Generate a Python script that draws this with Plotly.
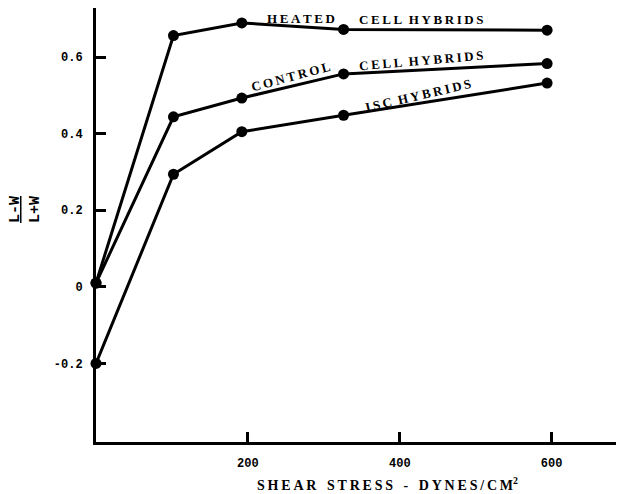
import plotly.graph_objects as go

shear_stress = [0, 102, 192, 326, 594]
heated = [0.01, 0.656, 0.689, 0.672, 0.670]
control = [0.01, 0.444, 0.493, 0.556, 0.583]
isc = [-0.2, 0.294, 0.405, 0.448, 0.532]

y_ticks = [-0.2, 0, 0.2, 0.4, 0.6]
y_tick_labels = ["-0.2", "0", "0.2", "0.4", "0.6"]
x_ticks = [200, 400, 600]
x_tick_labels = ["200", "400", "600"]

TS = "\u2009"  # thin space used as letter spacing
GAP = "\u00a0\u00a0"
GAP3 = "\u00a0\u00a0\u00a0"


def spaced(s):
    return TS.join(s)


fig = go.Figure()
for name, ys in [("HEATED CELL HYBRIDS", heated), ("CONTROL CELL HYBRIDS", control), ("ISC HYBRIDS", isc)]:
    fig.add_trace(go.Scatter(
        x=shear_stress, y=ys, mode="lines+markers", name=name,
        line=dict(color="black", width=3),
        marker=dict(color="black", size=11),
        cliponaxis=False, showlegend=False,
    ))

label_font = dict(family="Liberation Serif", size=13, color="black", weight="bold")
annotations = [
    dict(x=270, y=0.701, text=spaced("HEATED"), textangle=0),
    dict(x=429, y=0.698, text=spaced("CELL") + GAP + spaced("HYBRIDS"), textangle=0),
    dict(x=257, y=0.550, text=spaced("CONTROL"), textangle=-15),
    dict(x=428, y=0.590, text=spaced("CELL") + GAP + spaced("HYBRIDS"), textangle=-5),
    dict(x=424, y=0.500, text=spaced("ISC") + GAP + spaced("HYBRIDS"), textangle=-13),
]
for a in annotations:
    fig.add_annotation(xref="x", yref="y", showarrow=False, font=label_font,
                       xanchor="center", yanchor="middle", **a)

fig.add_annotation(xref="paper", yref="paper", x=(387 - 96) / 524, y=-(484 - 442) / 434,
                   xanchor="center", yanchor="middle",
                   text=spaced("SHEAR") + GAP3 + spaced("STRESS") + GAP3 + "-" + GAP3 + spaced("DYNES/CM") + "<sup>2</sup>",
                   showarrow=False,
                   font=dict(family="Liberation Serif", size=14, color="black", weight="bold"))
fig.add_annotation(xref="paper", yref="paper", x=-(96 - 25) / 524, y=(442 - 210) / 434,
                   xanchor="center", yanchor="middle",
                   text="<u>L-W</u><br>L+W", textangle=-90, showarrow=False,
                   font=dict(family="Liberation Mono", size=15, color="black", weight="bold"))

fig.update_layout(
    width=624, height=494,
    margin=dict(l=88, r=12, t=0, b=60),
    paper_bgcolor="white", plot_bgcolor="white",
    xaxis=dict(range=[0, 690], showline=True, linecolor="black", linewidth=3,
               ticks="inside", ticklen=10, tickwidth=2.5, tickcolor="black",
               tickvals=x_ticks, ticktext=x_tick_labels, showgrid=False, zeroline=False,
               tickfont=dict(family="Liberation Mono", size=12, color="black", weight="bold"),
               ticklabelstandoff=8),
    yaxis=dict(range=[-0.405, 0.728], showline=True, linecolor="black", linewidth=3,
               ticks="inside", ticklen=10, tickwidth=2.5, tickcolor="black",
               tickvals=y_ticks, ticktext=y_tick_labels, showgrid=False, zeroline=False,
               tickfont=dict(family="Liberation Mono", size=12, color="black", weight="bold"),
               ticklabelstandoff=8),
)

fig.write_html("out.html")
